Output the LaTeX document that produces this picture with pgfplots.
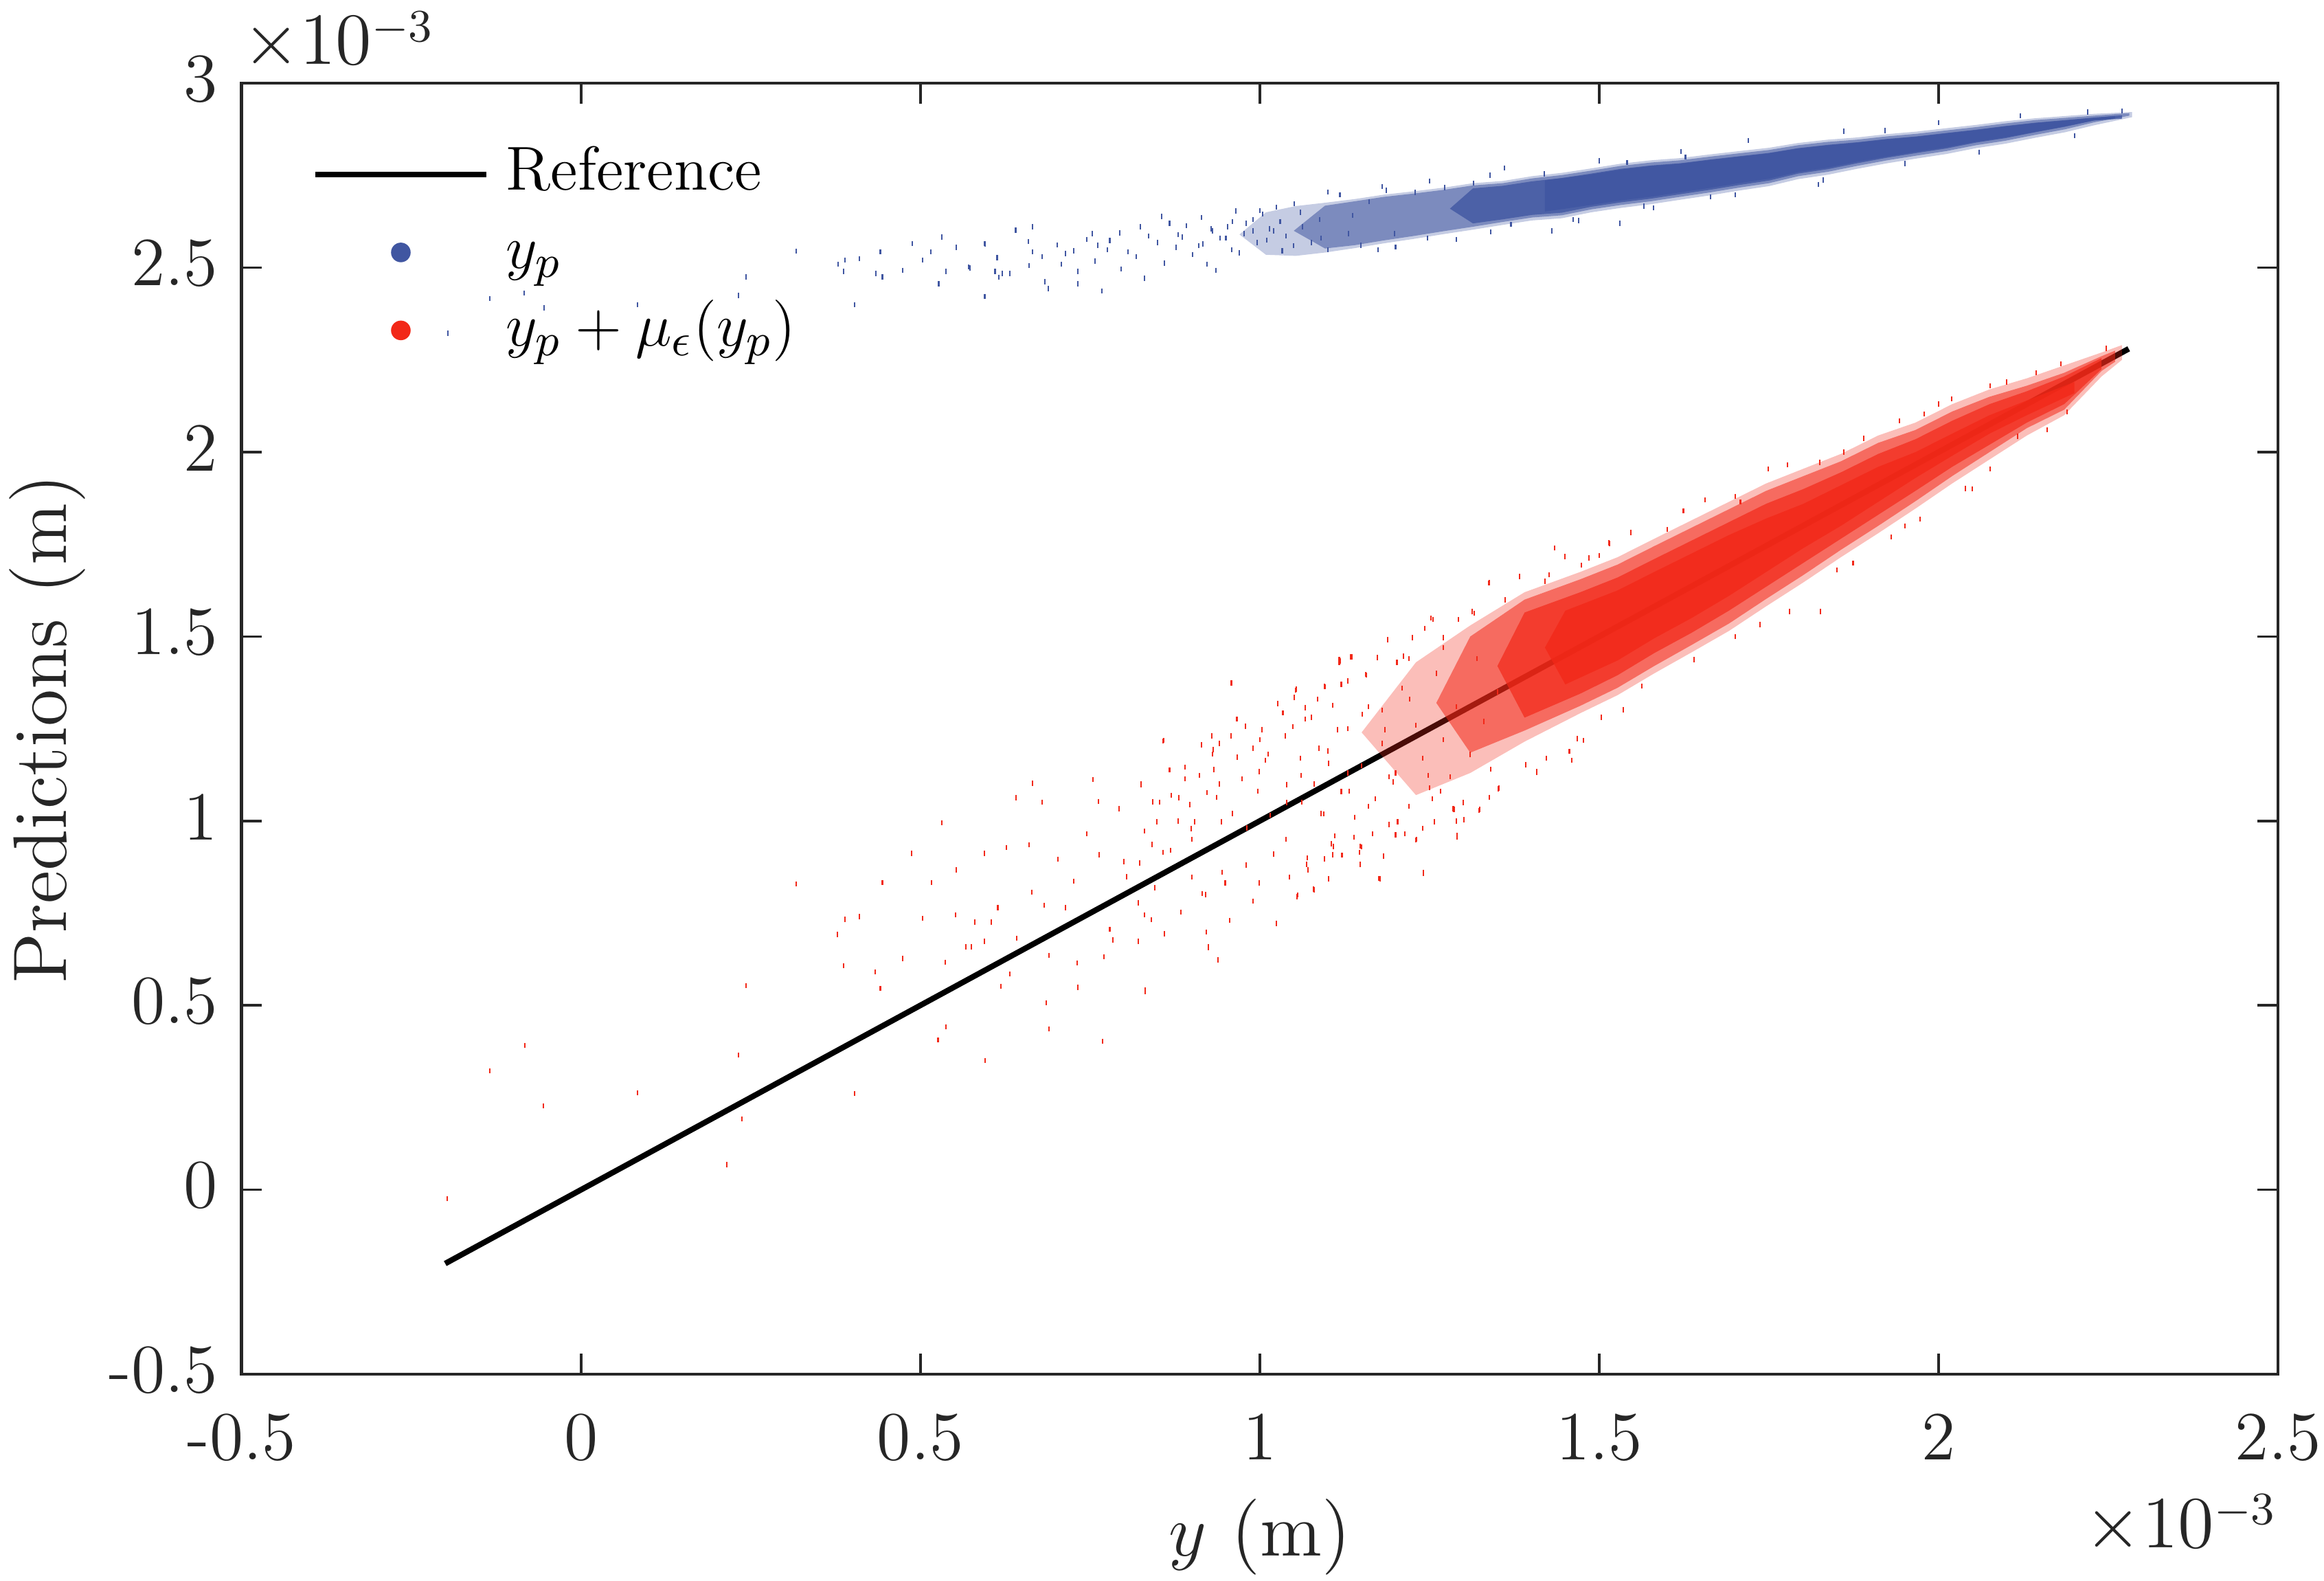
\documentclass[border=0pt]{standalone}
\usepackage{pgfplots}
\pgfplotsset{compat=1.18}
\definecolor{myblue}{RGB}{64,86,161}
\definecolor{myred}{RGB}{242,40,24}
\definecolor{axgray}{RGB}{38,38,38}
\pgfplotsset{
  leglinestyle/.style={legend image code/.code={\path[draw=none,fill=none] (0pt,-6.15pt) rectangle (33.5pt,6.15pt); \draw[black, line width=1.15pt] (0pt,0.25pt) -- (33.5pt,0.25pt);}},
  legbluestyle/.style={legend image code/.code={\path[draw=none,fill=none] (0pt,-6.15pt) rectangle (33.5pt,6.15pt); \fill[myblue, draw=none] (16.75pt,0.25pt) circle (1.92pt);}},
  legredstyle/.style={legend image code/.code={\path[draw=none,fill=none] (0pt,-6.15pt) rectangle (33.5pt,6.15pt); \fill[myred, draw=none] (16.75pt,0.25pt) circle (1.92pt);}},
}
\begin{document}
\begin{tikzpicture}
\begin{axis}[
  width=398.7pt, height=252.7pt, scale only axis,
  xmin=-0.5, xmax=2.5, ymin=-0.5, ymax=3,
  xtick={-0.5,0,0.5,1,1.5,2,2.5},
  ytick={-0.5,0,0.5,1,1.5,2,2.5,3},
  xticklabels={-0.5,0,0.5,1,1.5,2,2.5},
  yticklabels={-0.5,0,0.5,1,1.5,2,2.5,3},
  tick align=inside, tick pos=both, major tick length=4pt,
  minor tick num=0,
  axis line style={line width=0.6pt, axgray},
  every tick/.style={line width=0.5pt, axgray},
  tick label style={font=\fontsize{13.5}{16}\selectfont, text=axgray},
  xticklabel style={anchor=base, inner sep=0pt, yshift=-16.8pt},
  yticklabel style={anchor=east, inner sep=0pt, xshift=-4.5pt, yshift=0.8pt},
  xlabel={$y$ (m)},
  ylabel={Predictions (m)},
  label style={font=\fontsize{14.85}{17}\selectfont, text=axgray},
  xlabel style={at={([yshift=-35.6pt]axis description cs:0.5,0)}, anchor=base, inner sep=0pt},
  ylabel style={at={([xshift=-34.3pt]axis description cs:0,0.5)}, anchor=base, rotate=0, inner sep=0pt},
  legend style={at={(0.03474,0.95267)}, anchor=north west, draw=none, fill=none,
    inner sep=0pt, outer sep=0pt, row sep=2.96pt,
    font=\fontsize{12.15}{14}\selectfont,
    nodes={inner sep=0pt, text height=9pt, text depth=3.3pt},
    /tikz/every odd column/.append style={column sep=3.3pt}},
  legend cell align=left,
  clip mode=individual,
]
\addlegendimage{leglinestyle}
\addlegendimage{legbluestyle}
\addlegendimage{legredstyle}
\legend{Reference, $y_p$, $y_p+\mu_\epsilon(y_p)$}

% ---- y_p : density layers of the dense point cloud
\addplot[fill=myblue, fill opacity=0.3, draw=none, forget plot] coordinates {
(0.97,2.59) (1.009,2.650) (1.053,2.667) (1.096,2.676) (1.140,2.686) (1.183,2.698) (1.227,2.707)
(1.271,2.717) (1.314,2.729) (1.358,2.735) (1.401,2.748) (1.445,2.757) (1.488,2.769) (1.532,2.782) (1.576,2.791)
(1.619,2.797) (1.663,2.807) (1.706,2.816) (1.750,2.825) (1.793,2.838) (1.837,2.847) (1.880,2.853) (1.924,2.862)
(1.968,2.869) (2.011,2.878) (2.055,2.887) (2.098,2.897) (2.142,2.905) (2.186,2.911) (2.229,2.917) (2.285,2.922)
(2.285,2.908) (2.229,2.886) (2.186,2.867) (2.142,2.852) (2.098,2.836) (2.055,2.824) (2.011,2.808) (1.968,2.796)
(1.924,2.783) (1.880,2.768) (1.837,2.752) (1.793,2.740) (1.750,2.721) (1.706,2.709) (1.663,2.696) (1.619,2.684)
(1.576,2.672) (1.532,2.662) (1.488,2.650) (1.445,2.634) (1.401,2.628) (1.358,2.616) (1.314,2.603) (1.271,2.591)
(1.227,2.578) (1.183,2.566) (1.140,2.553) (1.096,2.541) (1.053,2.532) (1.009,2.535)} -- cycle;
\addplot[fill=myblue, fill opacity=0.55, draw=none, forget plot] coordinates {
(1.05,2.60) (1.096,2.668) (1.140,2.680) (1.183,2.692) (1.227,2.701) (1.271,2.711) (1.314,2.723) (1.358,2.729)
(1.401,2.742) (1.445,2.751) (1.488,2.763) (1.532,2.776) (1.576,2.785) (1.619,2.791) (1.663,2.801) (1.706,2.810)
(1.750,2.819) (1.793,2.832) (1.837,2.841) (1.880,2.847) (1.924,2.856) (1.968,2.863) (2.011,2.872) (2.055,2.881)
(2.098,2.891) (2.142,2.900) (2.186,2.906) (2.229,2.912) (2.281,2.919)
(2.281,2.912) (2.229,2.894) (2.186,2.875) (2.142,2.860) (2.098,2.844) (2.055,2.832) (2.011,2.816) (1.968,2.804)
(1.924,2.791) (1.880,2.776) (1.837,2.760) (1.793,2.748) (1.750,2.729) (1.706,2.717) (1.663,2.704) (1.619,2.692)
(1.576,2.680) (1.532,2.670) (1.488,2.658) (1.445,2.642) (1.401,2.636) (1.358,2.624) (1.314,2.611) (1.271,2.599)
(1.227,2.586) (1.183,2.574) (1.140,2.561) (1.096,2.552)} -- cycle;
\addplot[fill=myblue, fill opacity=0.8, draw=none, forget plot] coordinates {
(1.28,2.66) (1.314,2.715) (1.358,2.722) (1.401,2.734) (1.445,2.743) (1.488,2.755) (1.532,2.768) (1.576,2.777)
(1.619,2.783) (1.663,2.793) (1.706,2.802) (1.750,2.811) (1.793,2.824) (1.837,2.833) (1.880,2.840) (1.924,2.849)
(1.968,2.856) (2.011,2.865) (2.055,2.874) (2.098,2.884) (2.142,2.893) (2.186,2.900) (2.229,2.907) (2.27,2.913)
(2.27,2.904) (2.229,2.899) (2.186,2.882) (2.142,2.867) (2.098,2.851) (2.055,2.839) (2.011,2.823) (1.968,2.811)
(1.924,2.798) (1.880,2.783) (1.837,2.767) (1.793,2.755) (1.750,2.736) (1.706,2.724) (1.663,2.711) (1.619,2.699)
(1.576,2.687) (1.532,2.677) (1.488,2.665) (1.445,2.649) (1.401,2.643) (1.358,2.631) (1.314,2.620)} -- cycle;
\addplot[fill=myblue, fill opacity=0.85, draw=none, forget plot] coordinates {
(1.42,2.737) (1.488,2.753) (1.532,2.766) (1.576,2.776) (1.619,2.782) (1.663,2.792) (1.706,2.801) (1.750,2.810)
(1.793,2.823) (1.837,2.832) (1.880,2.839) (1.924,2.848) (1.968,2.855) (2.011,2.864) (2.055,2.873) (2.098,2.883)
(2.142,2.892) (2.186,2.899) (2.229,2.906) (2.26,2.911)
(2.26,2.904) (2.229,2.899) (2.186,2.883) (2.142,2.868) (2.098,2.853) (2.055,2.841) (2.011,2.826) (1.968,2.814)
(1.924,2.801) (1.880,2.787) (1.837,2.771) (1.793,2.759) (1.750,2.741) (1.706,2.729) (1.663,2.716) (1.619,2.704)
(1.576,2.692) (1.532,2.682) (1.488,2.670) (1.42,2.652)} -- cycle;
% ---- y_p : scattered points
\addplot[only marks, mark=|, mark size=0.5pt, line width=0.28pt, myblue, forget plot] coordinates {
(-0.196,2.322) (-0.134,2.416) (-0.084,2.431) (-0.054,2.391) (0.083,2.400) (0.232,2.425) (0.243,2.475)
(0.317,2.545) (0.379,2.509) (0.387,2.490) (0.389,2.521) (0.403,2.400) (0.410,2.524) (0.434,2.484)
(0.441,2.543) (0.444,2.475) (0.474,2.493) (0.488,2.565) (0.503,2.521) (0.515,2.543) (0.527,2.456)
(0.532,2.583) (0.538,2.490) (0.553,2.555) (0.571,2.502) (0.594,2.565) (0.594,2.422) (0.613,2.527)
(0.621,2.484) (0.641,2.602) (0.660,2.506) (0.665,2.611) (0.679,2.530) (0.683,2.462) (0.702,2.562)
(0.573,2.499) (0.595,2.564) (0.595,2.422) (0.610,2.490) (0.616,2.474) (0.632,2.484) (0.640,2.602)
(0.659,2.571) (0.665,2.543) (0.688,2.443) (0.708,2.509) (0.714,2.538) (0.726,2.546) (0.732,2.490)
(0.732,2.456) (0.745,2.577) (0.753,2.592) (0.757,2.518) (0.761,2.561) (0.767,2.437) (0.775,2.549)
(0.779,2.574) (0.794,2.594) (0.796,2.496) (0.806,2.543) (0.818,2.530) (0.824,2.611) (0.830,2.471)
(0.836,2.586) (0.849,2.568) (0.855,2.639) (0.859,2.512) (0.867,2.620) (0.877,2.555) (0.886,2.583)
(0.892,2.614) (0.901,2.536) (0.914,2.636) (0.916,2.564) (0.922,2.509) (0.928,2.605) (0.935,2.493)
(0.941,2.580) (0.953,2.611) (0.959,2.549) (0.965,2.654) (0.977,2.592) (0.990,2.630) (0.996,2.568)
(1.004,2.645) (1.014,2.605) (1.024,2.664) (1.033,2.546) (1.039,2.586) (1.051,2.673) (1.063,2.611)
(1.076,2.568) (1.088,2.630) (1.100,2.549) (1.118,2.698) (1.131,2.592) (1.137,2.642) (1.149,2.561)
(1.161,2.679) (1.174,2.549) (1.186,2.710) (1.198,2.592) (1.229,2.704) (1.247,2.580) (1.272,2.717)
(1.290,2.577) (1.315,2.729) (1.339,2.751) (1.370,2.617) (1.419,2.754) (1.462,2.630) (1.541,2.785)
(1.566,2.667) (1.627,2.800) (1.664,2.692) (1.823,2.726) (1.921,2.872) (1.530,2.620) (1.430,2.600)
(1.10,2.705) (1.18,2.720) (1.25,2.735) (1.36,2.770) (1.50,2.790) (1.62,2.815) (1.72,2.845) (1.86,2.870)
(2.00,2.893) (2.12,2.912) (2.22,2.922) (2.27,2.925)
(1.20,2.556) (1.34,2.597) (1.47,2.628) (1.58,2.662) (1.70,2.698) (1.83,2.738) (1.95,2.782) (2.06,2.813)
(2.20,2.858)
(0.98,2.620) (1.02,2.600) (1.06,2.650) (1.09,2.580) (0.95,2.580) (0.88,2.590) (0.91,2.560)
(0.97,2.540) (1.00,2.655) (1.03,2.625) (1.05,2.560) (1.01,2.575) (0.99,2.600) (0.93,2.600) (0.96,2.625)
};

% ---- reference line (under the red cloud)
\addplot[black, line width=1.1pt, forget plot] coordinates {(-0.2,-0.2) (2.28,2.28)};

% ---- y_p + mu : density layers of the dense point cloud
\addplot[fill=myred, fill opacity=0.3, draw=none, forget plot] coordinates {
(1.15,1.24) (1.23,1.43) (1.31,1.53) (1.39,1.62) (1.472,1.675) (1.527,1.715)
(1.581,1.765) (1.636,1.815) (1.691,1.865) (1.746,1.915) (1.801,1.955) (1.856,1.995) (1.911,2.045) (1.966,2.08)
(2.020,2.13) (2.075,2.17) (2.130,2.20) (2.185,2.235) (2.24,2.27) (2.27,2.29)
(2.27,2.25) (2.24,2.205) (2.185,2.10) (2.130,2.045) (2.075,1.98) (2.020,1.915) (1.966,1.847) (1.911,1.78)
(1.856,1.715) (1.801,1.647) (1.746,1.582) (1.691,1.515) (1.636,1.457) (1.581,1.40) (1.527,1.341) (1.472,1.292)
(1.39,1.215) (1.31,1.13) (1.23,1.07)} -- cycle;
\addplot[fill=myred, fill opacity=0.55, draw=none, forget plot] coordinates {
(1.26,1.32) (1.31,1.50) (1.39,1.60) (1.472,1.655) (1.527,1.695) (1.581,1.745) (1.636,1.795)
(1.691,1.845) (1.746,1.895) (1.801,1.935) (1.856,1.975) (1.911,2.025) (1.966,2.06) (2.020,2.11) (2.075,2.15)
(2.130,2.18) (2.185,2.215) (2.24,2.26) (2.26,2.275)
(2.26,2.245) (2.24,2.22) (2.185,2.115) (2.130,2.065) (2.075,2.0) (2.020,1.935) (1.966,1.867) (1.911,1.80)
(1.856,1.735) (1.801,1.667) (1.746,1.602) (1.691,1.535) (1.636,1.477) (1.581,1.42) (1.527,1.361) (1.472,1.312)
(1.39,1.245) (1.31,1.185)} -- cycle;
\addplot[fill=myred, fill opacity=0.7, draw=none, forget plot] coordinates {
(1.35,1.42) (1.39,1.565) (1.472,1.62) (1.527,1.66) (1.581,1.71) (1.636,1.76) (1.691,1.81) (1.746,1.86)
(1.801,1.90) (1.856,1.945) (1.911,1.995) (1.966,2.035) (2.020,2.085) (2.075,2.13) (2.130,2.165) (2.185,2.205) (2.24,2.255)
(2.24,2.225) (2.185,2.13) (2.130,2.08) (2.075,2.02) (2.020,1.96) (1.966,1.895) (1.911,1.83) (1.856,1.765)
(1.801,1.70) (1.746,1.635) (1.691,1.57) (1.636,1.51) (1.581,1.455) (1.527,1.395) (1.472,1.345) (1.39,1.28)} -- cycle;
\addplot[fill=myred, fill opacity=0.8, draw=none, forget plot] coordinates {
(1.42,1.47) (1.45,1.57) (1.527,1.625) (1.581,1.675) (1.636,1.725) (1.691,1.775) (1.746,1.82) (1.801,1.86) (1.856,1.91)
(1.911,1.96) (1.966,2.0) (2.020,2.05) (2.075,2.10) (2.130,2.14) (2.20,2.19)
(2.20,2.16) (2.130,2.10) (2.075,2.05) (2.020,1.99) (1.966,1.93) (1.911,1.865) (1.856,1.80) (1.801,1.74)
(1.746,1.675) (1.691,1.61) (1.636,1.55) (1.581,1.495) (1.527,1.435) (1.45,1.37)} -- cycle;
% ---- y_p + mu : scattered points
\addplot[only marks, mark=|, mark size=0.5pt, line width=0.28pt, myred, forget plot] coordinates {
(-0.197,-0.024) (-0.083,0.391) (-0.134,0.323) (-0.055,0.228) (0.083,0.263) (0.232,0.365) (0.237,0.192)
(0.215,0.068) (0.403,0.261) (0.243,0.554) (0.317,0.829) (0.378,0.692) (0.389,0.733) (0.410,0.741)
(0.387,0.607) (0.433,0.591) (0.441,0.546) (0.444,0.833) (0.474,0.627) (0.487,0.912) (0.503,0.736)
(0.516,0.833) (0.532,0.995) (0.537,0.617) (0.538,0.442) (0.526,0.406) (0.553,0.867) (0.552,0.745)
(0.567,0.659) (0.575,0.659) (0.580,0.726) (0.594,0.912) (0.595,0.350) (0.594,0.674) (0.604,0.726)
(0.614,0.765) (0.619,0.552) (0.627,0.928) (0.632,0.585) (0.641,1.063) (0.642,0.682) (0.660,0.935)
(0.664,0.807) (0.665,1.102) (0.679,1.051) (0.682,0.771) (0.685,0.507) (0.689,0.436) (0.689,0.635)
(0.703,0.896) (0.714,0.765) (0.726,0.837) (0.731,0.615) (0.732,0.549) (0.745,0.965) (0.754,1.112)
(0.762,1.053) (0.763,0.908) (0.768,0.403) (0.770,0.632) (0.779,0.706) (0.784,0.677) (0.793,1.033)
(0.800,0.890) (0.804,0.849) (0.825,1.101) (0.831,0.537) (0.840,0.732) (0.845,0.819) (0.852,1.051)
(0.857,1.217) (0.859,0.694) (0.869,0.920) (0.881,1.063) (0.890,1.146) (0.899,0.979) (0.914,1.205)
(0.924,0.659) (0.931,1.193) (0.938,0.623) (0.944,0.861) (0.956,0.730) (0.959,1.374) (0.967,1.276)
(0.990,0.783) (0.999,1.134) (1.012,1.181) (1.024,0.722) (1.026,1.318) (1.039,0.950) (1.054,1.357)
(1.055,0.795) (1.062,1.051) (1.080,0.813) (1.095,1.365) (1.107,0.908) (1.118,1.434) (1.134,1.445)
(1.148,0.932) (1.157,1.395)
(0.858,1.218) (0.867,1.138) (0.825,1.098) (0.842,1.052) (0.848,0.998) (0.830,0.973) (0.841,0.936)
(0.857,0.915) (0.823,0.886) (0.821,0.778) (0.830,0.745) (0.821,0.674) (0.831,0.541) (0.859,0.695)
(0.884,0.753) (0.870,1.069) (0.890,1.114) (0.897,1.044) (0.904,0.998) (0.911,1.123) (0.914,1.206)
(0.922,1.077) (0.929,1.231) (0.930,1.181) (0.932,1.139) (0.936,1.064) (0.940,1.210) (0.943,0.998)
(0.949,0.832) (0.921,0.699) (0.924,0.657) (0.938,0.624) (0.900,0.848) (0.915,0.803) (0.958,1.374)
(0.958,1.231) (0.966,1.276) (0.967,1.173) (0.974,1.114) (0.979,1.257) (0.981,0.981) (0.990,1.197)
(0.997,1.081) (0.999,0.832) (1.003,1.247) (1.008,1.164) (1.015,1.015) (1.026,1.318) (1.034,1.293)
(1.038,1.231) (1.040,1.098) (1.044,0.848) (1.049,1.256) (1.051,1.335) (1.053,1.355) (1.056,0.799)
(1.061,1.123) (1.067,1.276) (1.069,0.882) (1.076,1.281) (1.079,0.815) (1.085,1.330) (1.087,1.197)
(1.094,1.019) (1.096,1.364) (1.101,1.156) (1.107,1.314) (1.108,0.931) (1.114,1.247) (1.117,1.430)
(1.121,0.907) (1.130,1.380) (1.132,1.081) (1.136,1.445) (1.139,0.956) (1.148,0.882) (1.151,1.289)
(1.156,1.397) (1.160,1.040) (1.166,0.965) (1.173,1.443) (1.175,0.844) (1.184,1.247) (1.188,1.492)
(1.196,1.106) (1.202,1.430) (1.203,0.998) (1.212,1.447) (1.214,0.965) (1.221,1.330) (1.225,1.497)
(1.230,0.948) (1.241,0.861) (1.243,1.522) (1.248,1.123) (1.255,1.546) (1.257,0.998) (1.266,1.081)
(1.270,1.497) (1.286,1.031) (1.291,0.961) (1.293,1.546) (1.301,1.002) (1.316,1.563) (1.324,1.031)
(1.338,1.646) (1.338,1.064) (1.352,1.089) (1.361,1.600) (1.383,1.663) (1.408,1.131) (1.426,1.667)
(1.449,1.717) (1.456,1.189) (1.460,1.164) (1.477,1.218) (1.485,1.713) (1.503,1.281) (1.514,1.754)
(1.079,0.814) (1.101,0.843) (1.177,0.843) (1.241,0.858) (1.071,0.867) (1.095,0.897) (1.105,0.938)
(1.147,0.915) (1.182,0.905) (1.200,0.962) (1.231,0.950) (1.291,0.956) (1.301,1.004) (1.323,1.028)
(1.351,1.087) (1.285,1.033) (1.254,1.060) (1.408,1.134) (1.460,1.164) (1.392,1.152) (1.422,1.170)
(1.468,1.223) (1.535,1.301) (1.826,1.568) (1.780,1.568) (1.737,1.532) (1.640,1.437) (1.563,1.366)
(1.874,1.699) (1.930,1.770) (1.973,1.818) (2.039,1.901) (2.076,1.954) (2.116,2.043) (2.189,2.109)
(1.067,1.307) (1.117,1.437) (1.188,1.491) (1.252,1.550) (1.313,1.568) (1.337,1.645) (1.383,1.663)
(1.361,1.598) (1.434,1.740) (1.474,1.693) (1.515,1.752) (1.547,1.782) (1.624,1.841) (1.656,1.871)
(1.708,1.865) (1.749,1.954) (1.777,1.966) (1.825,1.972) (1.890,2.037) (1.942,2.085) (1.979,2.103)
(2.019,2.144) (2.076,2.180) (2.144,2.215) (2.180,2.239) (2.247,2.281)
(1.08,1.10) (1.09,1.02) (1.10,1.19) (1.11,0.96) (1.12,1.08) (1.13,1.25) (1.14,1.01) (1.15,1.15)
(1.16,1.31) (1.17,1.06) (1.18,1.21) (1.19,0.99) (1.20,1.13) (1.21,1.36) (1.22,1.04) (1.23,1.26)
(1.24,1.17) (1.25,1.09) (1.26,1.40) (1.27,1.22) (1.28,1.12) (1.29,1.31) (1.30,1.05) (1.31,1.18)
(1.32,1.44) (1.33,1.27) (1.34,1.14) (1.35,1.35) (1.12,1.37) (1.18,1.30) (1.22,1.44) (1.27,1.47)
(1.15,0.93) (1.24,0.98) (1.29,1.00) (1.06,1.17) (1.04,1.05) (1.02,0.91) (1.00,1.22) (0.98,0.88)
(0.96,1.02) (0.94,1.10) (0.92,0.80) (0.90,0.95) (0.88,1.00) (1.07,0.90) (1.13,1.13) (1.19,1.12)
(1.60,1.79) (1.70,1.88) (1.86,2.00) (2.00,2.13) (2.10,2.19) (1.50,1.72) (1.42,1.65)
(1.95,1.80) (2.05,1.90) (2.16,2.06) (1.70,1.50) (1.85,1.68)
};

\node[anchor=base west, inner sep=0pt, font=\fontsize{13.5}{16}\selectfont, text=axgray]
  at ([xshift=0pt,yshift=3.7pt]rel axis cs:0,1) {$\times10$\raisebox{4.4pt}{\fontsize{9.5}{11}\selectfont$-3$}};
\node[anchor=base east, inner sep=0pt, font=\fontsize{13.5}{16}\selectfont, text=axgray]
  at ([xshift=-0.5pt,yshift=-34pt]rel axis cs:1,0) {$\times10$\raisebox{4.6pt}{\fontsize{9.5}{11}\selectfont$-3$}};
\end{axis}
\pgfresetboundingbox
\path[use as bounding box] (-47.3pt,-40.35pt) rectangle (407.7pt,269pt);
\end{tikzpicture}
\end{document}
